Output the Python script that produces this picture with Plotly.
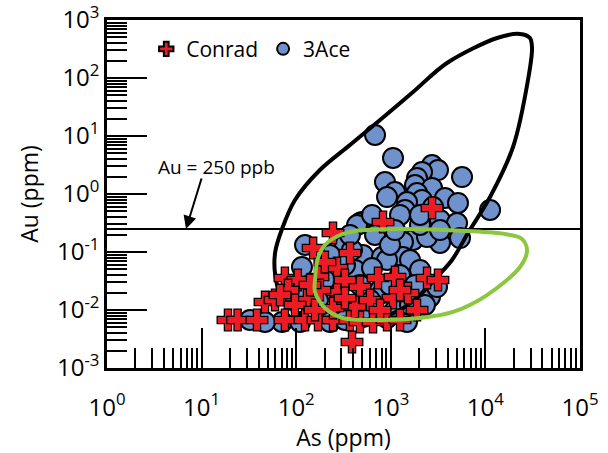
import plotly.graph_objects as go
import numpy as np

# ---- data (ppm) ----
ace_as = [681, 1055, 2727, 3154, 2137, 5662, 1893, 1803, 868, 2727,
          1107, 1893, 2137, 3740, 1483, 5132, 2793, 1413, 11200, 1251,
          3312, 5012, 496, 912, 769, 472, 1718, 1345, 3312, 5390,
          2415, 124, 440, 681, 328, 508, 807, 1345, 1596, 912,
          389, 115, 115, 769, 827, 2188, 2596, 3079, 2299, 1483,
          912, 508, 70.8, 46.8, 32.5, 110, 228, 328, 1107, 1596,
          603, 418, 328, 1251, 2036, 981, 370, 1107, 2036, 3312,
          633, 2036, 201, 290, 472, 1803, 633, 981, 228, 170]
ace_au = [10.4, 4.18, 3.16, 2.59, 2.40, 1.96, 1.89, 1.43, 1.61, 1.27,
          1.08, 1.04, 0.788, 0.853, 0.728, 0.700, 0.597, 0.530, 0.530, 0.435,
          0.356, 0.316, 0.329, 0.887, 0.259, 0.316, 0.161, 0.149, 0.143, 0.174,
          0.181, 0.132, 0.292, 0.197, 0.132, 0.0888, 0.0820, 0.0820, 0.0728, 0.0728,
          0.108, 0.0551, 0.0221, 0.0221, 0.0196, 0.0196, 0.0168, 0.0249, 0.0122, 0.00621,
          0.00728, 0.00757, 0.00621, 0.00621, 0.00673, 0.00621, 0.00621, 0.00673, 0.0100, 0.0122,
          0.0149, 0.0490, 0.0597, 0.0401, 0.0490, 0.132, 0.197, 0.239, 0.292, 0.239,
          0.435, 0.435, 0.0329, 0.0149, 0.0270, 0.0270, 0.0530, 0.0270, 0.0888, 0.0149]

conrad_as = [19, 24, 38.5, 76, 124, 170, 245, 370, 472, 649,
             912, 1251, 46.8, 76, 104, 170, 130, 82, 151, 245,
             370, 270, 270, 178, 472, 418, 245, 732, 1107, 2415,
             3154, 1893, 1055, 1520, 389, 827, 2727, 59.7, 97.1, 328,
             603, 201, 140, 769, 1251, 158, 328, 67.4]
conrad_au = [0.00673, 0.00673, 0.00673, 0.00673, 0.00673, 0.00673, 0.00673, 0.00673, 0.00621, 0.00621,
             0.00673, 0.00673, 0.0137, 0.0356, 0.0329, 0.0371, 0.0149, 0.0221, 0.117, 0.213,
             0.0961, 0.0530, 0.0204, 0.0221, 0.0249, 0.0113, 0.0108, 0.0356, 0.0371, 0.0356,
             0.0329, 0.0100, 0.0161, 0.0196, 0.00281, 0.329, 0.574, 0.0149, 0.0122, 0.0329,
             0.0149, 0.0673, 0.0270, 0.0100, 0.0221, 0.0100, 0.0161, 0.0181]

# black envelope outline
env_black_as = [70.8, 97.1, 178, 370, 769, 1718, 3926, 13280, 23220, 29600,
                31100, 28200, 19590, 11200, 6548, 4436, 3079, 2036, 1251, 603,
                228, 110, 72, 60, 60, 70.8]
env_black_au = [0.249, 0.788, 2.59, 7.0, 18.9, 57.4, 181.5, 489, 574, 489,
                329, 92.4, 6.46, 0.887, 0.213, 0.0728, 0.0371, 0.0181, 0.0100, 0.00673,
                0.00621, 0.00820, 0.0149, 0.0401, 0.100, 0.249]

# green envelope outline
env_green_as = [158, 170, 201, 277, 418, 1251, 6390, 16110, 24380, 27540,
                23220, 10400, 4546, 2036, 827, 312, 201, 158, 158]
env_green_au = [0.0329, 0.0788, 0.132, 0.189, 0.230, 0.249, 0.230, 0.204, 0.168, 0.108,
                0.0551, 0.0181, 0.00925, 0.00728, 0.00673, 0.00728, 0.0108, 0.0204, 0.0329]

au_threshold = 0.25  # ppm (250 ppb)
x_range_vals = [1, 1e5]

x_tickvals = [1, 10, 100, 1000, 10000, 100000]
x_ticktext = ["10<sup>0</sup>", "10<sup>1</sup>", "10<sup>2</sup>", "10<sup>3</sup>",
              "10<sup>4</sup>", "10<sup>5</sup>"]
y_tickvals = [0.001, 0.01, 0.1, 1, 10, 100, 1000]
y_ticktext = ["10<sup>-3</sup>", "10<sup>-2</sup>", "10<sup>-1</sup>", "10<sup>0</sup>",
              "10<sup>1</sup>", "10<sup>2</sup>", "10<sup>3</sup>"]

FONT = "Open Sans"
BLUE = "#6F92CC"
RED = "#ED1C24"
GREEN = "#8DC63F"

fig = go.Figure()

fig.add_trace(go.Scatter(x=x_range_vals, y=[au_threshold, au_threshold], mode="lines",
                         line=dict(color="black", width=2), showlegend=False, hoverinfo="skip"))

fig.add_trace(go.Scatter(x=ace_as, y=ace_au, mode="markers", name="3Ace", legendrank=2,
                         marker=dict(symbol="circle", size=20, color=BLUE,
                                     line=dict(color="black", width=2))))

fig.add_trace(go.Scatter(x=env_black_as, y=env_black_au, mode="lines",
                         line=dict(color="black", width=4, shape="spline", smoothing=0.9),
                         showlegend=False, hoverinfo="skip"))

fig.add_trace(go.Scatter(x=conrad_as, y=conrad_au, mode="markers", name="Conrad", legendrank=1,
                         marker=dict(symbol="cross", size=18, color=RED,
                                     line=dict(color="black", width=1.3))))

fig.add_trace(go.Scatter(x=env_green_as, y=env_green_au, mode="lines",
                         line=dict(color=GREEN, width=4, shape="spline", smoothing=0.9),
                         showlegend=False, hoverinfo="skip"))

minor_x = [m * 10 ** e for e in range(0, 5) for m in range(2, 10)]
minor_y = [m * 10.0 ** e for e in range(-3, 3) for m in range(2, 10)]

fig.update_xaxes(type="log", range=[0, 5], tickmode="array", tickvals=x_tickvals,
                 ticktext=x_ticktext, ticks="inside", ticklen=40, tickwidth=2,
                 tickcolor="black", showline=True, linecolor="black", linewidth=2.5,
                 mirror=True, showgrid=False, zeroline=False, automargin=False,
                 ticklabelstandoff=16,
                 tickfont=dict(family=FONT, size=24, color="black"),
                 title=dict(text="As (ppm)", font=dict(family=FONT, size=23, color="black"),
                            standoff=0),
                 minor=dict(tickmode="array", tickvals=minor_x, ticks="inside", ticklen=20,
                            tickwidth=1.5, tickcolor="black", showgrid=False))
fig.update_yaxes(type="log", range=[-3, 3], tickmode="array", tickvals=y_tickvals,
                 ticktext=y_ticktext, ticks="inside", ticklen=40, tickwidth=2,
                 tickcolor="black", showline=True, linecolor="black", linewidth=2.5,
                 mirror=True, showgrid=False, zeroline=False, automargin=False,
                 tickfont=dict(family=FONT, size=24, color="black"),
                 title=dict(text="Au (ppm)", font=dict(family=FONT, size=23, color="black"),
                            standoff=12),
                 minor=dict(tickmode="array", tickvals=minor_y, ticks="inside", ticklen=20,
                            tickwidth=1.5, tickcolor="black", showgrid=False))

fig.add_annotation(x=np.log10(14.2), y=np.log10(2.92), xref="x", yref="y",
                   text="Au = 250 ppb", showarrow=False,
                   font=dict(family=FONT, size=19, color="black"))
fig.add_annotation(x=np.log10(6.84), y=np.log10(au_threshold), xref="x", yref="y",
                   text="", showarrow=True, ax=16, ay=-52, arrowhead=2, arrowsize=1.3,
                   arrowwidth=2, arrowcolor="black")

fig.update_layout(width=608, height=453, margin=dict(l=107, r=28, t=20, b=85),
                  paper_bgcolor="white", plot_bgcolor="white",
                  font=dict(family=FONT, color="black"),
                  legend=dict(orientation="h", x=0.083, y=0.975, xanchor="left", yanchor="top",
                              font=dict(family=FONT, size=21, color="black"),
                              bgcolor="rgba(0,0,0,0)", itemwidth=30, itemsizing="constant"),
                  showlegend=True)

fig.write_html("out.html")
